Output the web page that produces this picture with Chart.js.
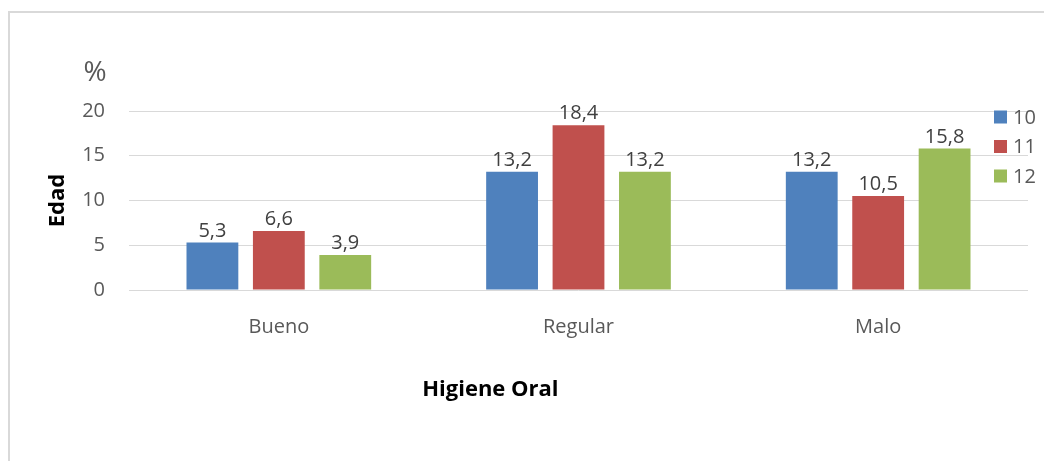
<!DOCTYPE html>
<html lang="es">
<head>
<meta charset="UTF-8" />
<title>Higiene oral por edad</title>
<script src="https://cdn.jsdelivr.net/npm/chart.js"></script>
<style>
  html, body { margin: 0; padding: 0; background: #fff; }
  #wrap { position: relative; width: 1044px; height: 461px; overflow: hidden; }
  #frame { position: absolute; left: 8px; top: 11px; width: 1100px; height: 500px; border: 2px solid #d9d9d9; box-sizing: border-box; }
  canvas { position: absolute; left: 0; top: 0; }
</style>
</head>
<body>
<div id="wrap">
  <div id="frame"></div>
  <canvas id="chart" width="1044" height="461"></canvas>
</div>
<script>
  const categorias = ['Bueno', 'Regular', 'Malo'];
  const edades = ['10', '11', '12'];
  const edad10 = [5.3, 13.2, 13.2];
  const edad11 = [6.6, 18.4, 10.5];
  const edad12 = [3.9, 13.2, 15.8];
  const ticksY = [0, 5, 10, 15, 20];
  const colores = ['#4f81bd', '#c0504d', '#9bbb59'];

  const fuente = '"Open Sans", "DejaVu Sans", sans-serif';

  // etiquetas de valor, leyenda, "%" y título del eje x
  const extras = {
    id: 'extras',
    afterDatasetsDraw(chart) {
      const ctx = chart.ctx;
      const area = chart.chartArea;
      ctx.save();

      ctx.font = '20px ' + fuente;
      ctx.fillStyle = '#404040';
      ctx.textAlign = 'center';
      ctx.textBaseline = 'alphabetic';
      chart.data.datasets.forEach((ds, i) => {
        chart.getDatasetMeta(i).data.forEach((bar, j) => {
          ctx.fillText(ds.data[j].toFixed(1).replace('.', ','), bar.x, bar.y - 6);
        });
      });

      // leyenda
      ctx.textAlign = 'left';
      ctx.textBaseline = 'middle';
      chart.data.datasets.forEach((ds, i) => {
        const y = area.top + 6 + i * 29.5;
        ctx.fillStyle = ds.backgroundColor;
        ctx.fillRect(area.right - 34, y - 6.5, 13, 13);
        ctx.fillStyle = '#595959';
        ctx.fillText(ds.label, area.right - 15, y + 1);
      });

      ctx.textAlign = 'center';
      ctx.font = '28px ' + fuente;
      ctx.fillText('%', area.left - 34, area.top - 38);

      ctx.font = 'bold 22px ' + fuente;
      ctx.fillStyle = '#000';
      ctx.fillText('Higiene Oral', area.left + area.width * 0.402, area.bottom + 100);
      ctx.restore();
    }
  };

  new Chart(document.getElementById('chart'), {
    type: 'bar',
    data: {
      labels: categorias,
      datasets: [
        { label: edades[0], data: edad10, backgroundColor: colores[0] },
        { label: edades[1], data: edad11, backgroundColor: colores[1] },
        { label: edades[2], data: edad12, backgroundColor: colores[2] }
      ]
    },
    options: {
      responsive: false,
      animation: false,
      layout: { padding: { top: 111, right: 16, bottom: 0, left: 0 } },
      datasets: { bar: { categoryPercentage: 0.665, barPercentage: 0.78 } },
      plugins: { legend: { display: false }, tooltip: { enabled: false } },
      scales: {
        x: {
          grid: { display: false },
          border: { display: false },
          ticks: { color: '#595959', font: { family: fuente, size: 20 }, padding: 17 },
          afterFit: s => { s.height = 171; }
        },
        y: {
          min: 0,
          max: 20,
          afterBuildTicks: s => { s.ticks = ticksY.map(v => ({ value: v })); },
          grid: { color: '#d9d9d9', lineWidth: 1, drawTicks: false },
          border: { display: false },
          ticks: { color: '#595959', font: { family: fuente, size: 20 }, padding: 24 },
          title: {
            display: true,
            text: 'Edad',
            color: '#000',
            font: { family: fuente, size: 22, weight: 'bold' },
            padding: { top: 45, bottom: 0 }
          },
          afterFit: s => { s.width = 129; }
        }
      }
    },
    plugins: [extras]
  });
</script>
</body>
</html>
